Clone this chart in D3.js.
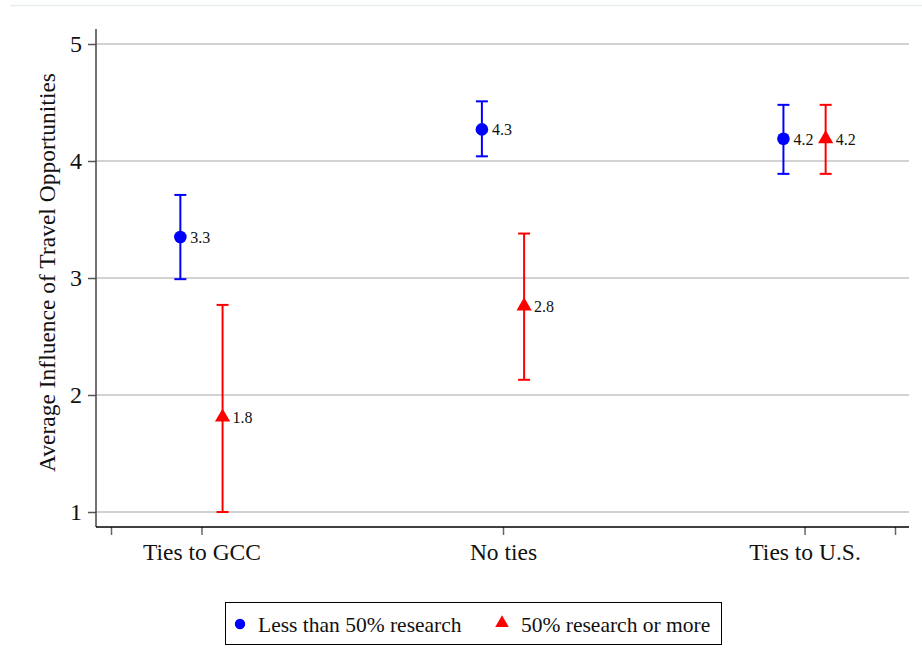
<!DOCTYPE html>
<html>
<head>
<meta charset="utf-8">
<script src="https://cdn.jsdelivr.net/npm/d3@7"></script>
<style>
  body { margin: 0; background: #fff; }
  text { font-family: "Liberation Serif", "Times New Roman", serif; fill: #111; }
</style>
</head>
<body>
<div id="chart"></div>
<script>
// categories and groups
var categories = ["Ties to GCC", "No ties", "Ties to U.S."];
var groups = ["Less than 50% research", "50% research or more"];

// less than 50% research (blue circles)
var lowMean = [3.35, 4.27, 4.19];
var lowLower = [2.99, 4.04, 3.89];
var lowUpper = [3.71, 4.51, 4.48];
var lowLabels = ["3.3", "4.3", "4.2"];

// 50% research or more (red triangles)
var highMean = [1.81, 2.76, 4.19];
var highLower = [1.00, 2.13, 3.89];
var highUpper = [2.77, 3.38, 4.48];
var highLabels = ["1.8", "2.8", "4.2"];

// axis ticks
var yTicks = [1, 2, 3, 4, 5];
var xTicks = [0.7, 1, 2, 3, 3.3];

var svgWidth = 922;
var svgHeight = 672;

// plot region edges
var plotLeft = 96, plotRight = 909, plotTop = 29, plotBottom = 527;

var svg = d3.select("#chart")
  .append("svg")
  .attr("width", svgWidth)
  .attr("height", svgHeight);

// faint frame line at top
svg.append("line")
  .attr("x1", 10).attr("x2", 922)
  .attr("y1", 5.5).attr("y2", 5.5)
  .attr("stroke", "#e6eded")
  .attr("stroke-width", 1.5);

// scales
var x = d3.scaleLinear().domain([0.7, 3.3]).range([111, 895]);
var y = d3.scaleLinear().domain([1, 5]).range([512, 44]);

// gridlines
svg.append("g")
  .selectAll("line")
  .data(yTicks)
  .enter()
  .append("line")
  .attr("x1", plotLeft).attr("x2", plotRight)
  .attr("y1", d => y(d)).attr("y2", d => y(d))
  .attr("stroke", "#d2d2d2")
  .attr("stroke-width", 2);

// y axis
var yAxis = svg.append("g")
  .attr("transform", `translate(${plotLeft}, 0)`)
  .call(d3.axisLeft(y).tickValues(yTicks).tickSize(8).tickPadding(6).tickFormat(d3.format("d")));
yAxis.select(".domain").remove();
yAxis.selectAll(".tick line").attr("stroke", "#555").attr("stroke-width", 1.5);
yAxis.selectAll(".tick text").style("font-size", "24px").attr("fill", "#111");
svg.append("line")
  .attr("x1", plotLeft).attr("x2", plotLeft)
  .attr("y1", plotTop).attr("y2", plotBottom)
  .attr("stroke", "#444")
  .attr("stroke-width", 1.5);

// x axis
var xAxis = svg.append("g")
  .attr("transform", `translate(0, ${plotBottom})`)
  .call(d3.axisBottom(x).tickValues(xTicks).tickSize(8).tickPadding(8)
    .tickFormat(d => (d % 1 === 0 ? categories[d - 1] : "")));
xAxis.select(".domain").remove();
xAxis.selectAll(".tick line").attr("stroke", "#666").attr("stroke-width", 1.5);
xAxis.selectAll(".tick text").style("font-size", "23.5px").attr("fill", "#111");
svg.append("line")
  .attr("x1", plotLeft).attr("x2", plotRight)
  .attr("y1", plotBottom).attr("y2", plotBottom)
  .attr("stroke", "#000")
  .attr("stroke-width", 1.5);

// y axis title
svg.append("text")
  .attr("transform", `translate(55, ${(67 + 478) / 2}) rotate(-90)`)
  .attr("text-anchor", "middle")
  .style("font-size", "23.5px")
  .text("Average Influence of Travel Opportunities");

// series setup
var offset = 0.07;
var series = [
  { mean: lowMean, lower: lowLower, upper: lowUpper, labels: lowLabels, shift: -offset, color: "#0000ff", symbol: d3.symbolCircle, size: 125 },
  { mean: highMean, lower: highLower, upper: highUpper, labels: highLabels, shift: offset, color: "#ff0000", symbol: d3.symbolTriangle, size: 100 }
];

series.forEach(function(s) {
  var g = svg.append("g");
  var rows = categories.map((c, i) => ({ i: i + 1, m: s.mean[i], lo: s.lower[i], hi: s.upper[i], lab: s.labels[i] }));

  // error bars
  g.selectAll(".bar")
    .data(rows).enter()
    .append("line")
    .attr("x1", d => x(d.i + s.shift)).attr("x2", d => x(d.i + s.shift))
    .attr("y1", d => y(d.lo)).attr("y2", d => y(d.hi))
    .attr("stroke", s.color).attr("stroke-width", 2);

  // caps
  ["lo", "hi"].forEach(function(k) {
    g.selectAll(".cap-" + k)
      .data(rows).enter()
      .append("line")
      .attr("x1", d => x(d.i + s.shift) - 6).attr("x2", d => x(d.i + s.shift) + 6)
      .attr("y1", d => y(d[k])).attr("y2", d => y(d[k]))
      .attr("stroke", s.color).attr("stroke-width", 2);
  });

  // markers
  g.selectAll(".marker")
    .data(rows).enter()
    .append("path")
    .attr("d", d3.symbol().type(s.symbol).size(s.size))
    .attr("transform", d => `translate(${x(d.i + s.shift)}, ${y(d.m)})`)
    .attr("fill", s.color);

  // value labels
  g.selectAll(".lab")
    .data(rows).enter()
    .append("text")
    .attr("x", d => x(d.i + s.shift) + 10)
    .attr("y", d => y(d.m) + 6)
    .style("font-size", "16px")
    .text(d => d.lab);
});

// legend
var legend = svg.append("g");
legend.append("rect")
  .attr("x", 225.5).attr("y", 602.5)
  .attr("width", 496).attr("height", 42)
  .attr("fill", "#fff")
  .attr("stroke", "#000")
  .attr("stroke-width", 1);

legend.append("path")
  .attr("d", d3.symbol().type(d3.symbolCircle).size(85))
  .attr("transform", "translate(240, 624)")
  .attr("fill", "#0000ff");
legend.append("text")
  .attr("x", 258).attr("y", 632)
  .style("font-size", "21.5px")
  .text(groups[0]);

legend.append("path")
  .attr("d", d3.symbol().type(d3.symbolTriangle).size(80))
  .attr("transform", "translate(502, 623)")
  .attr("fill", "#ff0000");
legend.append("text")
  .attr("x", 521).attr("y", 632)
  .style("font-size", "21.5px")
  .text(groups[1]);
</script>
</body>
</html>
